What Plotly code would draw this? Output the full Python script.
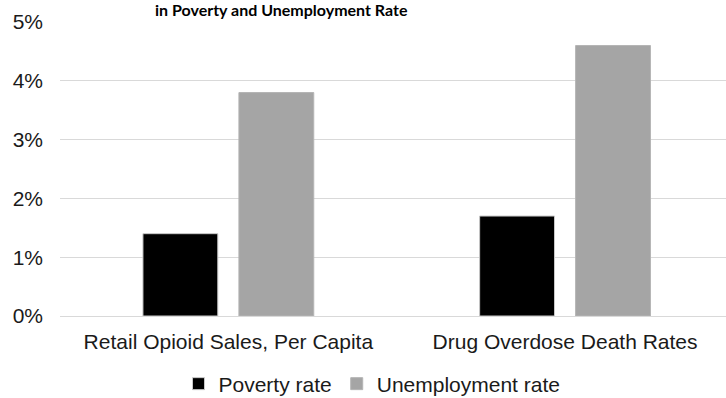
import plotly.graph_objects as go

categories = ["Retail Opioid Sales, Per Capita", "Drug Overdose Death Rates"]
poverty_rate = [0.014, 0.017]
unemployment_rate = [0.038, 0.046]
y_ticks = [0, 0.01, 0.02, 0.03, 0.04, 0.05]
y_tick_labels = ["0%", "1%", "2%", "3%", "4%", "5%"]
title_text = "in Poverty and Unemployment Rate"

W, H = 726, 398
M_L, M_R, M_T, M_B = 60, 0, 22, 82
plot_w = W - M_L - M_R
plot_h = H - M_T - M_B


def px_x(x):
    """Page x in pixels -> paper coordinate of the plot area."""
    return (x - M_L) / plot_w


def px_y(y):
    """Page y in pixels (from top) -> paper coordinate of the plot area."""
    return (H - M_B - y) / plot_h


label_font = dict(family="Liberation Sans, Arial, sans-serif", size=21, color="#1a1a1a")

fig = go.Figure()
fig.add_trace(go.Bar(
    name="Poverty rate", x=categories, y=poverty_rate,
    marker=dict(color="#000000", line=dict(color="#c8c8c8", width=1)),
))
fig.add_trace(go.Bar(
    name="Unemployment rate", x=categories, y=unemployment_rate,
    marker=dict(color="#a5a5a5", line=dict(color="#b4b4b4", width=1)),
))

fig.update_layout(
    width=W, height=H,
    margin=dict(l=M_L, r=M_R, t=M_T, b=M_B, autoexpand=False),
    paper_bgcolor="white", plot_bgcolor="white",
    barmode="group", bargap=0.43, bargroupgap=0.22,
    font=label_font,
    showlegend=True,
    legend=dict(
        orientation="h", x=px_x(372), xanchor="center", y=px_y(384), yanchor="middle",
        font=label_font, itemwidth=30, traceorder="normal",
    ),
    annotations=[dict(
        text=f"<b>{title_text}</b>", x=px_x(281), xref="paper", xanchor="center",
        y=px_y(10), yref="paper", yanchor="middle", showarrow=False,
        font=dict(family="Lato, Open Sans, sans-serif", size=16, color="#000000"),
    )],
)

fig.update_xaxes(
    range=[-0.5, 1.478], showgrid=False, showline=False, zeroline=False,
    ticks="", ticklabelstandoff=11, tickfont=label_font,
)
fig.update_yaxes(
    range=[0, 0.05], tickvals=y_ticks, ticktext=y_tick_labels,
    showgrid=True, gridcolor="#d9d9d9", gridwidth=1,
    zeroline=True, zerolinecolor="#d9d9d9", zerolinewidth=1,
    showline=False, ticks="", ticklabelstandoff=16, tickfont=label_font,
)

fig.write_html("out.html")
